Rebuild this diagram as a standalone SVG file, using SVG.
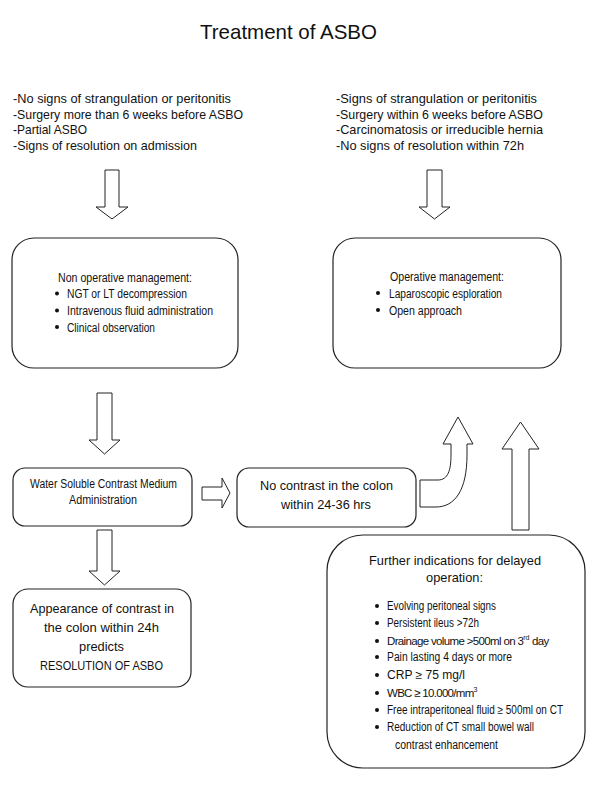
<svg xmlns="http://www.w3.org/2000/svg" width="600" height="789" viewBox="0 0 600 789">
<style>
text{font-family:"Liberation Sans",Arial,sans-serif;fill:#111;}
.t{font-size:13px;}
.s{font-size:12px;}
.c{font-size:11.5px;}
.m{font-size:13.5px;}
.sup{font-size:7px;}
.box{fill:#fff;stroke:#222;stroke-width:1.2;}
.arr{fill:#fff;stroke:#222;stroke-width:1;stroke-linejoin:miter;}
.b{fill:#111;}
</style>
<rect width="600" height="789" fill="#fff"/>
<text x="200" y="39" font-size="21" textLength="177" lengthAdjust="spacingAndGlyphs">Treatment of ASBO</text>
<g id="criteria-left">
<text class="t" x="13" y="103" textLength="218" lengthAdjust="spacingAndGlyphs">-No signs of strangulation or peritonitis</text>
<text class="t" x="13" y="119" textLength="230" lengthAdjust="spacingAndGlyphs">-Surgery more than 6 weeks before ASBO</text>
<text class="t" x="13" y="134" textLength="74" lengthAdjust="spacingAndGlyphs">-Partial ASBO</text>
<text class="t" x="13" y="150" textLength="184" lengthAdjust="spacingAndGlyphs">-Signs of resolution on admission</text>
</g>
<g id="criteria-right">
<text class="t" x="336" y="103" textLength="201" lengthAdjust="spacingAndGlyphs">-Signs of strangulation or peritonitis</text>
<text class="t" x="336" y="119" textLength="207" lengthAdjust="spacingAndGlyphs">-Surgery within 6 weeks before ASBO</text>
<text class="t" x="336" y="134" textLength="207" lengthAdjust="spacingAndGlyphs">-Carcinomatosis or irreducible hernia</text>
<text class="t" x="336" y="150" textLength="188" lengthAdjust="spacingAndGlyphs">-No signs of resolution within 72h</text>
</g>
<g id="connectors">
<polygon class="arr" points="105,170 119,170 119,207 128,207 112,219 96,207 105,207"/>
<polygon class="arr" points="427,170 442,170 442,207 450,207 434.5,219 419,207 427,207"/>
<polygon class="arr" points="97,393 112,393 112,440 120,440 104.5,454 89,440 97,440"/>
<polygon class="arr" points="202,487 222,487 222,478 230,493 222,508 222,500 202,500"/>
<polygon class="arr" points="97,530 112,530 112,571 120,571 104.5,585 89,571 97,571"/>
<path class="arr" d="M420,480 L438,480 C448,480 451,470 451,455 L451,444 L443,444 L458,417 L473,444 L467,444 L467,455 C467,490 455,507 436,507 L420,507 Z"/>
<polygon class="arr" points="512,530 529,530 529,449 539,449 520.5,422 502,449 512,449"/>
</g>
<g id="non-operative">
<rect class="box" x="12" y="238" width="226" height="130" rx="22"/>
<text class="s" x="58" y="282" textLength="134" lengthAdjust="spacingAndGlyphs">Non operative management:</text>
<circle class="b" cx="57" cy="293.5" r="2"/>
<text class="s" x="67" y="298" textLength="120" lengthAdjust="spacingAndGlyphs">NGT or LT decompression</text>
<circle class="b" cx="57" cy="310.5" r="2"/>
<text class="s" x="67" y="315" textLength="146" lengthAdjust="spacingAndGlyphs">Intravenous fluid administration</text>
<circle class="b" cx="57" cy="327" r="2"/>
<text class="s" x="67" y="331.5" textLength="88" lengthAdjust="spacingAndGlyphs">Clinical observation</text>
</g>
<g id="operative">
<rect class="box" x="333" y="238" width="228" height="130" rx="22"/>
<text class="s" x="390" y="281" textLength="114" lengthAdjust="spacingAndGlyphs">Operative management:</text>
<circle class="b" cx="378" cy="293" r="2"/>
<text class="s" x="389" y="297.5" textLength="113" lengthAdjust="spacingAndGlyphs">Laparoscopic esploration</text>
<circle class="b" cx="378" cy="310" r="2"/>
<text class="s" x="389" y="314.5" textLength="73" lengthAdjust="spacingAndGlyphs">Open approach</text>
</g>
<g id="contrast-medium">
<rect class="box" x="13" y="468" width="179" height="58" rx="12"/>
<text class="s" x="30" y="488" textLength="147" lengthAdjust="spacingAndGlyphs">Water Soluble Contrast Medium</text>
<text class="s" x="69" y="504" textLength="68" lengthAdjust="spacingAndGlyphs">Administration</text>
</g>
<g id="no-contrast">
<rect class="box" x="237" y="468" width="179" height="59" rx="12"/>
<text class="m" x="260" y="490" textLength="133" lengthAdjust="spacingAndGlyphs">No contrast in the colon</text>
<text class="m" x="281" y="509" textLength="90" lengthAdjust="spacingAndGlyphs">within 24-36 hrs</text>
</g>
<g id="resolution">
<rect class="box" x="13" y="589" width="178" height="98" rx="15"/>
<text class="m" x="30" y="613" textLength="144" lengthAdjust="spacingAndGlyphs">Appearance of contrast in</text>
<text class="m" x="44" y="632" textLength="115" lengthAdjust="spacingAndGlyphs">the colon within 24h</text>
<text class="m" x="79" y="651" textLength="45" lengthAdjust="spacingAndGlyphs">predicts</text>
<text class="m" x="40" y="670" font-size="14" textLength="123" lengthAdjust="spacingAndGlyphs">RESOLUTION OF ASBO</text>
</g>
<g id="further-indications">
<rect class="box" x="327" y="535" width="258" height="233" rx="36"/>
<text class="m" x="369" y="565" textLength="172" lengthAdjust="spacingAndGlyphs">Further indications for delayed</text>
<text class="m" x="426" y="582" textLength="57" lengthAdjust="spacingAndGlyphs">operation:</text>
<circle class="b" cx="377" cy="606" r="2"/>
<text class="s" x="387" y="610" textLength="109" lengthAdjust="spacingAndGlyphs">Evolving peritoneal signs</text>
<circle class="b" cx="377" cy="623" r="2"/>
<text class="s" x="387" y="627" textLength="92" lengthAdjust="spacingAndGlyphs">Persistent ileus &gt;72h</text>
<circle class="b" cx="377" cy="641" r="2"/>
<text class="c" x="387" y="645" letter-spacing="-0.65">Drainage volume &gt;500ml on 3<tspan class="sup" dy="-5" letter-spacing="0">rd</tspan><tspan dy="5" letter-spacing="-0.65"> day</tspan></text>
<circle class="b" cx="377" cy="657" r="2"/>
<text class="s" x="387" y="661" textLength="125" lengthAdjust="spacingAndGlyphs">Pain lasting  4 days or more</text>
<circle class="b" cx="377" cy="675" r="2"/>
<text class="s" x="387" y="679" textLength="78" lengthAdjust="spacingAndGlyphs">CRP ≥ 75 mg/l</text>
<circle class="b" cx="377" cy="693" r="2"/>
<text class="c" x="387" y="697" letter-spacing="-0.7">WBC ≥ 10.000/mm<tspan class="sup" dy="-5" letter-spacing="0">3</tspan></text>
<circle class="b" cx="377" cy="710" r="2"/>
<text class="s" x="387" y="714" textLength="176" lengthAdjust="spacingAndGlyphs">Free intraperitoneal fluid ≥ 500ml on CT</text>
<circle class="b" cx="377" cy="727" r="2"/>
<text class="s" x="387" y="731" textLength="147" lengthAdjust="spacingAndGlyphs">Reduction of CT small bowel wall</text>
<text class="s" x="395" y="749" textLength="103" lengthAdjust="spacingAndGlyphs">contrast enhancement</text>
</g>
</svg>
